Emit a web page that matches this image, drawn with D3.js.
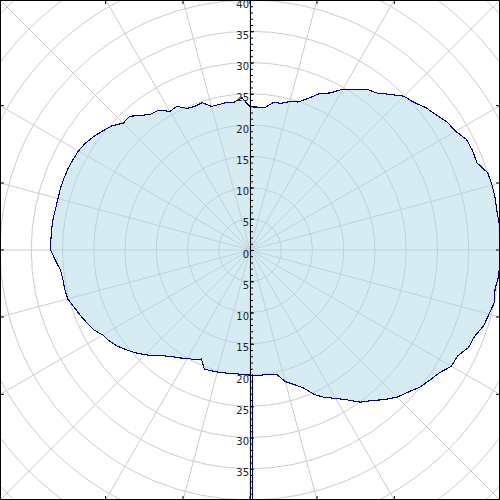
<!DOCTYPE html>
<html><head><meta charset="utf-8">
<script src="https://cdn.jsdelivr.net/npm/d3@7"></script>
<style>body{margin:0;background:#fff}svg{display:block}</style>
</head><body>
<svg id="chart" width="500" height="500"></svg>
<script>
// ---- data (angle in degrees, counter-clockwise from east; radius in chart units)
const thetaDeg = [-89.5,-89,-87,-84,-81,-78,-75,-72,-69,-66,-63,-60,-57,-54,-51,-48,-45,-42,-39,-36,-33,-30,-27,-24,-21,-18,-15,-12,-9,-6,-3,
  0,3,6,9,12,15,18,21,24,27,30,33,36,39,42,45,48,51,54,57,60,63,66,69,72,75,78,81,84,87,
  90,93,96,99,102,105,108,111,114,117,120,123,126,129,132,135,138,141,144,147,150,153,156,159,162,165,168,171,174,177,
  180,183,186,189,192,195,198,201,204,207,210,213,216,219,222,225,228,231,234,237,240,243,246,249,252,255,258,261,264,267,270];
const radius = [48,20.0,20.1,20.1,20.2,20.3,21.8,22.6,23.6,25.3,26.5,27.4,28.6,30.1,31.0,32.2,33.3,34.0,34.9,35.5,36.1,37.2,37.3,38.3,38.5,39.3,39.6,40.0,39.7,40.0,40.0,
  40.0,40.0,40.1,40.0,40.1,40.1,40.0,38.9,39.0,38.9,38.0,37.6,36.8,36.2,35.3,34.8,33.5,32.3,31.8,30.6,29.7,28.2,27.4,26.0,24.9,24.6,24.0,23.9,22.9,22.9,
  22.9,24.4,23.8,23.9,23.8,23.8,24.8,24.6,24.8,25.8,25.6,26.7,26.9,27.7,28.8,28.7,29.7,30.3,30.9,31.4,31.7,31.8,31.9,31.9,31.9,31.8,31.8,31.9,31.9,31.9,
  31.9,31.2,30.5,30.3,30.3,30.2,29.6,29.1,28.6,28.1,27.2,26.8,26.2,25.4,24.6,23.7,22.8,21.8,21.1,20.6,20.0,19.7,19.1,20.4,20.3,20.2,20.1,20.0,19.9,20.0,20.0];
const gridRadii = [5,10,15,20,25,30,35,40,45,50,55];
const spokeAngles = [0,15,30,45,60,75,90,105,120,135,150,165,180,195,210,225,240,255,270,285,300,315,330,345];
const majorTicks = [-40,-35,-30,-25,-20,-15,-10,-5,0,5,10,15,20,25,30,35,40];
const rMax = 40;

// ---- layout
const W = 500, H = 500, cx = W/2, cy = H/2, R = 250;
const svg = d3.select('#chart');
const rScale = d3.scaleLinear().domain([0, rMax]).range([0, R]);
const yScale = d3.scaleLinear().domain([-rMax, rMax]).range([H, 0]);
const rad = d => d * Math.PI / 180;

const plot = svg.append('g').attr('transform', `translate(${cx},${cy})`);

// grid circles
plot.append('g').selectAll('circle').data(gridRadii).join('circle')
  .attr('r', d => rScale(d)).attr('fill', 'none')
  .attr('stroke', '#cccccc').attr('stroke-width', 1);

// spokes
const spokeLen = rScale(60);
plot.append('g').selectAll('line').data(spokeAngles).join('line')
  .attr('x1', 0).attr('y1', 0)
  .attr('x2', d => spokeLen * Math.cos(rad(d)))
  .attr('y2', d => -spokeLen * Math.sin(rad(d)))
  .attr('stroke', '#cccccc').attr('stroke-width', 1);

// data area + outline
const pts = thetaDeg.map((t, i) => ({t, r: radius[i]}));
const radial = d3.lineRadial()
  .angle(d => rad(90 - d.t))
  .radius(d => rScale(d.r));
plot.append('path').datum(pts)
  .attr('d', radial)
  .attr('fill', 'lightblue').attr('fill-opacity', 0.5)
  .attr('stroke', 'none');
plot.append('path').datum(pts)
  .attr('d', radial)
  .attr('fill', 'none')
  .attr('stroke', '#000080').attr('stroke-width', 1.1)
  .attr('shape-rendering', 'crispEdges');

// frame
svg.append('rect').attr('x', 0.5).attr('y', 0.5).attr('width', W - 1).attr('height', H - 1)
  .attr('fill', 'none').attr('stroke', '#000').attr('stroke-width', 1);

// frame ticks where spokes meet the frame
const tickLen = 4;
const frameTicks = spokeAngles.map(a => {
  const c = Math.cos(rad(a)), s = Math.sin(rad(a));
  if (Math.abs(Math.abs(c) - Math.abs(s)) < 1e-6) return null;
  const t = R / Math.max(Math.abs(c), Math.abs(s));
  const x = cx + t * c, y = cy - t * s;
  if (Math.abs(c) > Math.abs(s)) return {x1: x, y1: y, x2: x - Math.sign(c) * tickLen, y2: y};
  return {x1: x, y1: y, x2: x, y2: y + Math.sign(s) * tickLen};
}).filter(d => d);
svg.append('g').selectAll('line').data(frameTicks).join('line')
  .attr('x1', d => d.x1).attr('y1', d => d.y1).attr('x2', d => d.x2).attr('y2', d => d.y2)
  .attr('stroke', '#000').attr('stroke-width', 1);

// radial axis along the vertical through the centre
const minorTicks = d3.range(-rMax, rMax + 1, 1);
const axMinor = svg.append('g').attr('transform', `translate(${cx},0)`)
  .call(d3.axisRight(yScale).tickValues(minorTicks).tickSize(3).tickSizeOuter(0).tickFormat(() => ''));
const axMajor = svg.append('g').attr('transform', `translate(${cx},0)`)
  .call(d3.axisRight(yScale).tickValues(majorTicks).tickSize(4).tickSizeOuter(0).tickFormat(d => Math.abs(d)));
[axMinor, axMajor].forEach(g => {
  g.select('.domain').attr('stroke', '#000');
  g.selectAll('.tick line').attr('stroke', '#000');
});
axMajor.attr('font-family', 'DejaVu Sans').attr('font-size', 10);
axMajor.selectAll('.tick text')
  .attr('x', -1).attr('dy', '0.7em').attr('text-anchor', 'end').attr('fill', '#222');
</script>
</body></html>
